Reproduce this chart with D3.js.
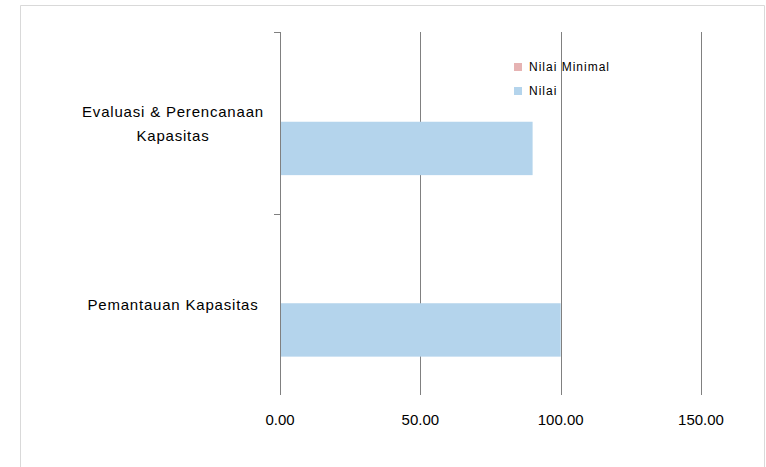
<!DOCTYPE html>
<html><head><meta charset="utf-8">
<script src="https://cdn.jsdelivr.net/npm/d3@7"></script>
<style>body{margin:0;background:#fff}svg{display:block}</style>
</head><body>
<svg id="c" width="766" height="467"></svg>
<script>
const categories = ["Evaluasi & Perencanaan Kapasitas", "Pemantauan Kapasitas"];
const categoryLines = [["Evaluasi & Perencanaan", "Kapasitas"], ["Pemantauan Kapasitas"]];
const seriesNames = ["Nilai Minimal", "Nilai"];
const nilaiMinimal = [0, 0];
const nilai = [90, 100];
const xTicks = [0, 50, 100, 150];
const colors = ["#e6b3b3", "#b4d4ec"];

(function(){
const svg = d3.select("#c");
const font = "'Liberation Sans', Arial, sans-serif";
svg.append("path").attr("d","M20.5,470 V5.5 H764.5 V470").attr("fill","none").attr("stroke","#d9d9d9");

const pL = 280, pR = 701, pT = 32, pB = 395;
const x = d3.scaleLinear().domain([0,150]).range([pL,pR]);
const y = d3.scaleBand().domain(categories).range([pT,pB]);
const inner = d3.scaleBand().domain(seriesNames).range([0,y.bandwidth()]).paddingInner(0).paddingOuter(0.7);

svg.append("g").selectAll("line").data(xTicks.slice(1)).join("line")
  .attr("x1",d=>Math.round(x(d))+0.5).attr("x2",d=>Math.round(x(d))+0.5)
  .attr("y1",pT).attr("y2",pB).attr("stroke","#808080").attr("stroke-width",1);

const data = [nilaiMinimal, nilai];
data.forEach((vals,si)=>{
  svg.append("g").selectAll("rect").data(vals).join("rect")
    .attr("x",x(0)).attr("width",d=>x(d)-x(0))
    .attr("y",(d,i)=>y(categories[i])+inner(seriesNames[si])-1)
    .attr("height",inner.bandwidth()).attr("fill",colors[si]);
});

const ya = svg.append("g");
ya.append("line").attr("x1",pL+0.5).attr("x2",pL+0.5).attr("y1",pT).attr("y2",pB).attr("stroke","#808080");
const bounds = [pT, y(categories[1])];
ya.selectAll("line.t").data(bounds).join("line").attr("class","t")
  .attr("x1",pL-6).attr("x2",pL).attr("y1",d=>Math.round(d)+0.5).attr("y2",d=>Math.round(d)+0.5).attr("stroke","#808080");

categories.forEach((c,i)=>{
  const lines = categoryLines[i];
  const cy = y(c)+y.bandwidth()/2;
  const lh = 24;
  const t = svg.append("text").attr("font-family",font).attr("font-size",15).attr("letter-spacing",0.8).attr("fill","#000").attr("text-anchor","middle");
  lines.forEach((l,j)=>{
    t.append("tspan").attr("x",173).attr("y",cy + (j-(lines.length-1)/2)*lh + 6).text(l);
  });
});

svg.append("g").selectAll("text").data(xTicks).join("text")
  .attr("x",d=>x(d)).attr("y",425).attr("text-anchor","middle")
  .attr("font-family",font).attr("font-size",15).attr("fill","#000")
  .text(d=>d3.format(".2f")(d));

const lg = svg.append("g");
seriesNames.forEach((s,i)=>{
  lg.append("rect").attr("x",514).attr("y",63+i*24).attr("width",8).attr("height",8).attr("fill",colors[i]);
  lg.append("text").attr("x",529).attr("y",67+i*24+4).attr("font-family",font).attr("font-size",12).attr("letter-spacing",1).attr("fill","#000").text(s);
});
})();
</script>
</body></html>
